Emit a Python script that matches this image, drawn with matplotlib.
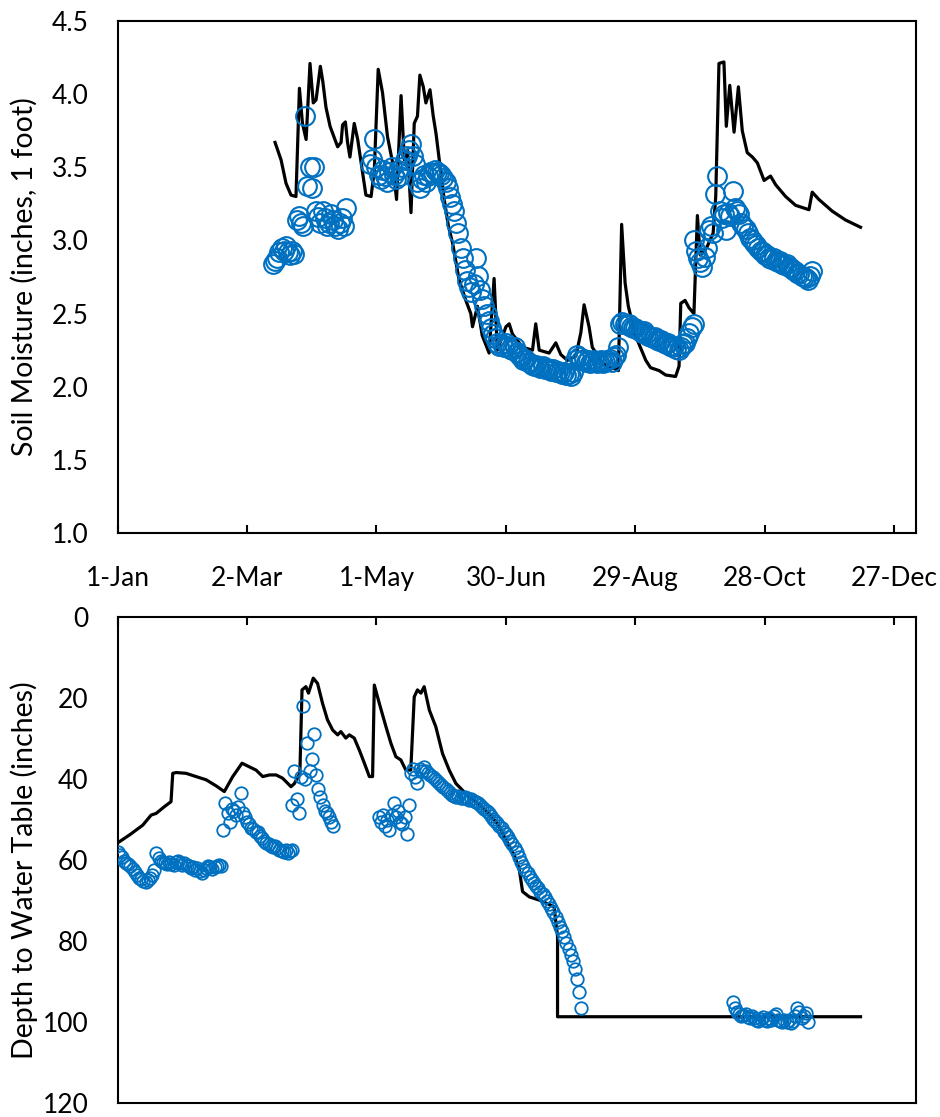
import numpy as np
import matplotlib
matplotlib.use("Agg")
import matplotlib.pyplot as plt

plt.rcParams['font.family'] = ['Lato', 'DejaVu Sans']

# ---------------- data ----------------
tick_days = [0, 60, 120, 180, 240, 300, 360]
tick_labels = ['1-Jan', '2-Mar', '1-May', '30-Jun', '29-Aug', '28-Oct', '27-Dec']

# top panel: modelled soil moisture (black line)
sm_line_day = [73.0, 75.8, 78.1, 80.4, 82.7, 84.3, 85.7, 87.4, 89.2, 90.7, 92.0, 94.0, 95.1, 96.6,
               98.5, 100.5, 102.0, 103.6, 104.3, 105.6, 106.6, 107.7, 109.7, 111.3, 113.6, 115.1,
               117.5, 119.0, 120.8, 122.8, 125.1, 127.5, 129.3, 131.4, 132.9, 134.4, 136.0, 137.5,
               139.0, 140.1, 141.7, 142.9, 144.8, 146.3, 147.6, 149.1, 151.4, 153.3, 155.3, 158.3,
               161.4, 163.7, 164.5, 166.8, 169.0, 172.2, 174.5, 176.0, 180.0, 181.5, 183.0, 187.7,
               192.3, 193.8, 195.4, 200.0, 203.1, 205.4, 208.5, 212.4, 214.7, 216.2, 218.5, 220.0,
               224.7, 229.3, 232.1, 233.6, 235.2, 236.7, 240.0, 244.8, 247.0, 251.0, 254.0, 258.6,
               260.2, 261.0, 263.0, 264.8, 267.1, 268.7, 270.0, 273.0, 276.0, 277.2, 278.7, 281.0,
               282.1, 283.7, 285.7, 287.7, 289.5, 291.8, 294.2, 296.5, 299.6, 302.6, 305.0, 309.6,
               314.2, 320.4, 321.9, 325.0, 331.2, 337.3, 344.3]
sm_line_val = [3.67, 3.55, 3.39, 3.31, 3.30, 4.04, 3.80, 3.69, 4.21, 3.94, 3.96, 4.19, 4.09, 3.91,
               3.78, 3.70, 3.64, 3.67, 3.79, 3.81, 3.67, 3.57, 3.80, 3.69, 3.46, 3.31,
               3.30, 3.48, 4.17, 4.01, 3.71, 3.53, 3.28, 3.99, 3.55, 3.62, 3.19, 3.80,
               3.85, 4.13, 4.05, 3.94, 4.03, 3.85, 3.73, 3.55, 3.28, 3.10, 2.98, 2.73,
               2.59, 2.50, 2.41, 2.55, 2.35, 2.23, 2.74, 2.25, 2.41, 2.43, 2.36, 2.27,
               2.25, 2.43, 2.25, 2.23, 2.30, 2.22, 2.18, 2.21, 2.37, 2.56, 2.41, 2.27,
               2.16, 2.13, 2.11, 3.11, 2.71, 2.55, 2.35, 2.18, 2.13, 2.11, 2.08, 2.07,
               2.14, 2.57, 2.59, 2.54, 2.50, 3.17, 2.90, 2.95, 3.05, 3.30, 4.21, 4.22,
               3.78, 4.06, 3.74, 4.05, 3.75, 3.60, 3.57, 3.53, 3.41, 3.44, 3.38, 3.30,
               3.24, 3.21, 3.33, 3.28, 3.20, 3.14, 3.09]

# top panel: measured soil moisture (blue circles), daily groups: first day + values
sm_obs_start_1 = 72
sm_obs_vals_1 = [2.84, 2.86, 2.88, 2.92, 2.95, 2.93, 2.96, 2.92, 2.90, 2.93, 2.91, 3.14, 3.17, 3.12,
                 3.10, 3.85, 3.37, 3.50, 3.36, 3.50, 3.20, 3.16, 3.12, 3.20, 3.15, 3.10, 3.12,
                 3.18, 3.14, 3.10, 3.08, 3.12, 3.15, 3.10, 3.22]
sm_obs_start_2 = 117
sm_obs_vals_2 = [3.52, 3.56, 3.69, 3.50, 3.45, 3.42, 3.48, 3.44, 3.40, 3.47, 3.50, 3.45, 3.42, 3.48,
                 3.44, 3.50, 3.55, 3.58, 3.62, 3.66, 3.58, 3.52, 3.40, 3.36, 3.42, 3.45, 3.40,
                 3.44, 3.47, 3.46, 3.48, 3.47, 3.46, 3.45, 3.43, 3.40, 3.36, 3.30, 3.25, 3.20,
                 3.12, 3.05, 2.95, 2.88, 2.80, 2.72, 2.68, 2.65, 2.70, 2.88, 2.76, 2.66, 2.60,
                 2.55, 2.50, 2.45, 2.40, 2.36, 2.33, 2.30, 2.28, 2.29, 2.27, 2.30, 2.28, 2.26,
                 2.25, 2.27, 2.24, 2.22, 2.20, 2.18, 2.19, 2.17, 2.16, 2.15, 2.14, 2.15, 2.14,
                 2.13, 2.14, 2.12, 2.13, 2.12, 2.11, 2.12, 2.10, 2.11, 2.10, 2.09, 2.10, 2.08,
                 2.09, 2.07, 2.10, 2.18, 2.22, 2.20, 2.18, 2.19, 2.17, 2.18, 2.16, 2.17, 2.18,
                 2.16, 2.17, 2.18, 2.16, 2.17, 2.18, 2.19, 2.17, 2.20, 2.22, 2.27]
sm_obs_start_3 = 233
sm_obs_vals_3 = [2.43, 2.44, 2.43, 2.42, 2.43, 2.41, 2.40, 2.40, 2.39, 2.38, 2.37, 2.38, 2.36,
                 2.35, 2.34, 2.33, 2.34, 2.32, 2.31, 2.32, 2.30, 2.29, 2.30, 2.28, 2.27, 2.28,
                 2.26, 2.25, 2.27, 2.29, 2.30, 2.33, 2.37, 2.41, 2.43]
sm_obs_start_4 = 267
sm_obs_vals_4 = [3.00, 2.93, 2.88, 2.85, 2.82, 2.89, 2.95, 3.07, 3.10, 3.05, 3.32, 3.44, 3.20,
                 3.15, 3.18, 3.07, 3.19, 3.17, 3.34, 3.22, 3.20, 3.18, 3.12, 3.10, 3.08, 3.05,
                 3.02, 3.00, 2.98, 2.97, 2.95, 2.93, 2.92, 2.90, 2.90, 2.88, 2.87, 2.88, 2.86,
                 2.85, 2.86, 2.84, 2.83, 2.84, 2.82, 2.81, 2.80, 2.79, 2.78, 2.77, 2.76, 2.75,
                 2.74, 2.73, 2.76, 2.79]

# bottom panel: modelled depth to water table (black line)
wt_line_day = [0, 5.6, 11.7, 15.6, 17.9, 21.8, 24.8, 25.6, 27.2, 31.8, 36.4, 41.1, 45.7, 49.5,
               53.4, 57.7, 61.1, 64.2, 67.3, 70.4, 73.5, 76.5, 80.4, 82.0, 84.5, 85.5, 87.3,
               88.5, 90.7, 92.7, 95.0, 97.3, 99.7, 102.0, 103.5, 105.8, 107.4, 109.7, 112.0,
               114.4, 116.7, 118.2, 119.0, 121.3, 124.4, 126.7, 129.0, 131.3, 133.6, 135.9,
               137.5, 139.0, 140.6, 142.1, 144.5, 147.5, 150.6, 153.7, 156.8, 163.0, 168.0,
               172.0, 176.0, 180.0, 184.0, 186.1, 187.7, 190.8, 195.4, 202.3, 203.9, 203.9, 344.3]
wt_line_val = [55.8, 53.8, 51.4, 48.9, 48.5, 46.8, 45.6, 38.6, 38.4, 38.6, 39.4, 40.2, 41.7, 43.1,
               39.4, 36.1, 37.0, 37.8, 39.4, 39.0, 39.0, 39.8, 41.9, 41.1, 38.6, 18.0, 17.2,
               18.8, 15.1, 16.4, 21.3, 25.4, 27.9, 29.1, 28.3, 29.9, 29.1, 29.9, 32.8,
               36.1, 39.4, 39.4, 16.8, 21.3, 27.1, 31.2, 34.5, 35.3, 37.8, 37.8,
               19.7, 18.0, 18.8, 17.2, 23.0, 27.1, 33.7, 37.8, 41.1, 44.5, 46.5,
               48.5, 51.0, 55.0, 59.0, 62.1, 67.8, 69.1, 69.9, 71.5, 78.9, 98.7, 98.7]

# bottom panel: measured depth to water table (blue circles)
wt_obs_start_1 = 0
wt_obs_vals_1 = [58.0, 58.8, 59.3, 60.2, 60.8, 61.0, 61.5, 62.3, 63.0, 63.8, 64.5, 64.8, 65.2,
                 65.4, 65.0, 64.5, 63.6, 62.5, 58.2, 59.5, 60.2, 60.5, 60.8, 61.0, 60.6, 60.9,
                 61.2, 60.5, 60.2, 60.8, 61.3, 60.8, 61.2, 61.5, 62.0, 61.8, 62.5, 62.0, 62.8,
                 63.2, 62.5, 62.0, 61.5, 61.8, 62.2, 61.8, 61.5, 61.2, 61.6]
wt_obs_start_2 = 49
wt_obs_vals_2 = [52.5, 46.0, 48.5, 50.5, 47.5, 48.0, 49.0, 47.0, 43.5, 48.5, 49.5, 50.5, 51.0,
                 52.0, 52.3, 53.0, 53.2, 54.0, 54.5, 55.2, 55.8, 56.0, 56.5, 56.8, 56.5, 57.0,
                 57.5, 57.8, 58.0, 57.5, 58.2, 57.8, 57.5]
wt_obs_start_3 = 81
wt_obs_vals_3 = [46.5, 38.0, 45.0, 48.5, 39.5, 22.0, 40.0, 31.0, 38.0, 35.0, 29.0, 39.0, 42.5,
                 44.5, 46.5, 48.0, 48.5, 49.5, 50.5, 51.5]
wt_obs_start_4 = 121
wt_obs_vals_4 = [49.5, 50.5, 48.8, 51.5, 50.0, 52.5, 49.0, 46.0, 49.5, 48.0, 50.5, 51.0, 49.5,
                 53.5, 46.5]
wt_obs_start_5 = 136
wt_obs_vals_5 = [38.5, 37.5, 39.5, 41.0, 37.5, 38.0, 37.0, 38.0, 38.5, 39.0, 39.5, 40.0, 40.5,
                 41.0, 41.5, 42.0, 42.5, 43.0, 43.5, 44.0, 44.3, 44.5, 44.3, 44.6, 44.8, 44.5,
                 44.8, 45.2, 45.0, 45.5, 45.8, 46.0, 46.5, 47.0, 47.5, 48.0, 48.5, 49.2, 49.8,
                 50.3, 50.9, 51.5, 52.2, 53.0, 53.6, 54.4, 55.2, 56.0, 57.0, 58.0, 59.2, 60.5,
                 61.5, 62.5, 63.3, 64.2, 65.0, 65.8, 66.5, 67.0, 67.8, 68.5, 69.2, 70.0, 70.8,
                 71.8, 72.8, 74.0, 75.2, 76.5, 77.5, 79.0, 80.5, 82.0, 83.5, 85.0, 87.0, 89.5,
                 92.5, 96.5]
wt_obs_start_6 = 285
wt_obs_vals_6 = [95.0, 96.5, 97.5, 98.0, 98.5, 98.3, 98.0, 98.8, 99.0, 98.6, 99.0, 99.5, 99.8,
                 99.2, 98.8, 99.5, 99.8, 99.0, 99.5, 98.5, 98.0, 99.5, 99.8, 100.0, 99.6, 100.0,
                 99.5, 100.2, 99.8, 98.5, 96.5, 97.5, 99.0, 98.5, 97.8, 100.0]

# ---------------- figure ----------------
BLUE = '#0070C0'
W, H = 940, 1117
fig = plt.figure(figsize=(W / 100, H / 100), dpi=100)

def fx(px):
    return px / W

def fy(py):
    return 1 - py / H

ax1 = fig.add_axes([fx(117.5), fy(533), fx(916) - fx(117.5), fy(21) - fy(533)])
ax2 = fig.add_axes([fx(117.5), fy(1103), fx(916) - fx(117.5), fy(617) - fy(1103)])

def groups(pairs):
    d, v = [], []
    for s, vals in pairs:
        d.extend(np.arange(s, s + len(vals)))
        v.extend(vals)
    return np.array(d), np.array(v)

sm_d, sm_v = groups([(sm_obs_start_1, sm_obs_vals_1), (sm_obs_start_2, sm_obs_vals_2),
                     (sm_obs_start_3, sm_obs_vals_3), (sm_obs_start_4, sm_obs_vals_4)])
wt_d, wt_v = groups([(wt_obs_start_1, wt_obs_vals_1), (wt_obs_start_2, wt_obs_vals_2),
                     (wt_obs_start_3, wt_obs_vals_3), (wt_obs_start_4, wt_obs_vals_4),
                     (wt_obs_start_5, wt_obs_vals_5), (wt_obs_start_6, wt_obs_vals_6)])

# top
ax1.plot(sm_line_day, sm_line_val, color='black', lw=2.3, solid_joinstyle='round', zorder=2)
ax1.plot(sm_d, sm_v, ls='none', marker='o', ms=13.5, mfc='none', mec=BLUE, mew=1.5, zorder=3)
ax1.set_xlim(0, 370)
ax1.set_ylim(1.0, 4.5)
ax1.set_yticks(np.arange(1.0, 4.51, 0.5))
ax1.set_yticklabels([f'{v:.1f}' for v in np.arange(1.0, 4.51, 0.5)])
ax1.set_xticks(tick_days)
ax1.set_xticklabels(tick_labels)

# bottom
ax2.plot(wt_line_day, wt_line_val, color='black', lw=2.3, solid_joinstyle='round', zorder=2)
ax2.plot(wt_d, wt_v, ls='none', marker='o', ms=9, mfc='none', mec=BLUE, mew=1.3, zorder=3)
ax2.set_xlim(0, 370)
ax2.set_ylim(120, 0)
ax2.set_yticks(np.arange(0, 121, 20))
ax2.set_xticks(tick_days)
ax2.xaxis.set_ticks_position('top')
ax2.tick_params(axis='x', labeltop=False, labelbottom=False)

for ax in (ax1, ax2):
    for sp in ax.spines.values():
        sp.set_linewidth(1.5)
        sp.set_color('black')
    ax.tick_params(axis='x', direction='in', length=6, width=1.5, labelsize=19, pad=24)
    ax.tick_params(axis='y', length=0, labelsize=19, pad=21)

fig.text(fx(24), fy(277), 'Soil Moisture (inches, 1 foot)', rotation=90,
         ha='center', va='center', fontsize=20.5)
fig.text(fx(24), fy(870), 'Depth to Water Table (inches)', rotation=90,
         ha='center', va='center', fontsize=20.5)

fig.savefig('out.png', dpi=100)
